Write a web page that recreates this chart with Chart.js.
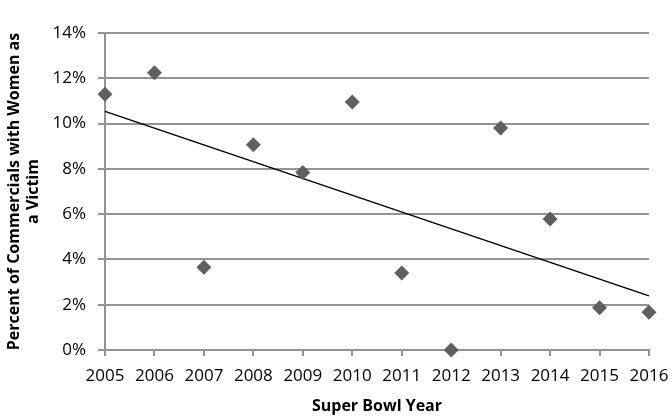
<!DOCTYPE html>
<html>
<head>
<meta charset="utf-8">
<script src="https://cdn.jsdelivr.net/npm/chart.js@4/dist/chart.umd.min.js"></script>
<style>
  html, body { margin:0; padding:0; background:#fff; }
  canvas { display:block; }
</style>
</head>
<body>
<canvas id="chart-scatter" width="672" height="416"></canvas>
<script>
const years = [2005,2006,2007,2008,2009,2010,2011,2012,2013,2014,2015,2016];
const victimPct = [11.3,12.25,3.65,9.07,7.84,10.95,3.4,0,9.8,5.78,1.87,1.67];
const yTicks = [0,2,4,6,8,10,12,14];

// linear trend (least squares) from the data
const n = years.length;
const mx = years.reduce((a,b)=>a+b,0)/n;
const my = victimPct.reduce((a,b)=>a+b,0)/n;
let sxy = 0, sxx = 0;
years.forEach((x,i)=>{ sxy += (x-mx)*(victimPct[i]-my); sxx += (x-mx)*(x-mx); });
const slope = sxy/sxx;
const trendAt = x => my + slope*(x-mx);
const trendX = [years[0], years[n-1]];

const gridGray = '#939393';
const tickFont = { family:'"Open Sans", sans-serif', size:17 };
const titleFont = { family:'"Open Sans", sans-serif', size:16, weight:'bold' };

new Chart(document.getElementById('chart-scatter'), {
  type:'scatter',
  data:{
    datasets:[{
      label:'Victim',
      data: years.map((x,i)=>({ x:x, y:victimPct[i] })),
      pointStyle:'rectRot',
      pointRadius:7.5,
      pointHoverRadius:7.5,
      backgroundColor:'#5f5f5f',
      borderWidth:0,
      clip:false,
      order:1
    },{
      type:'line',
      label:'Trend',
      data: trendX.map(x=>({ x:x, y:trendAt(x) })),
      borderColor:'#000',
      borderWidth:1.5,
      pointRadius:0,
      fill:false,
      clip:false,
      order:2
    }]
  },
  options:{
    responsive:false,
    animation:false,
    layout:{ padding:{ left:0, right:23, top:33, bottom:0 } },
    plugins:{ legend:{ display:false }, tooltip:{ enabled:false } },
    scales:{
      x:{
        type:'linear', min:2005, max:2016,
        afterBuildTicks: s => { s.ticks = years.map(v=>({ value:v })); },
        afterFit: s => { s.height = 66; s.paddingRight = 0; s.paddingLeft = 0; },
        grid:{ drawOnChartArea:false, color:gridGray, lineWidth:2, tickLength:6 },
        border:{ display:true, color:gridGray, width:2 },
        ticks:{ font:tickFont, color:'#000', padding:10, maxRotation:0, autoSkip:false, callback: v => String(v) },
        title:{ display:true, text:'Super Bowl Year', font:titleFont, color:'#000', padding:{ top:0, bottom:0 } }
      },
      y:{
        type:'linear', min:0, max:14,
        afterBuildTicks: s => { s.ticks = yTicks.map(v=>({ value:v })); },
        afterFit: s => { s.width = 105; },
        grid:{ display:true, drawOnChartArea:true, color:gridGray, lineWidth:2, tickLength:7 },
        border:{ display:true, color:gridGray, width:2 },
        ticks:{ font:tickFont, color:'#000', padding:12, callback: v => v + '%' },
        title:{ display:true, text:['Percent of Commercials with Women as','a Victim'], font:titleFont, color:'#000', padding:{ top:5, bottom:0 } }
      }
    }
  }
});
</script>
</body>
</html>
